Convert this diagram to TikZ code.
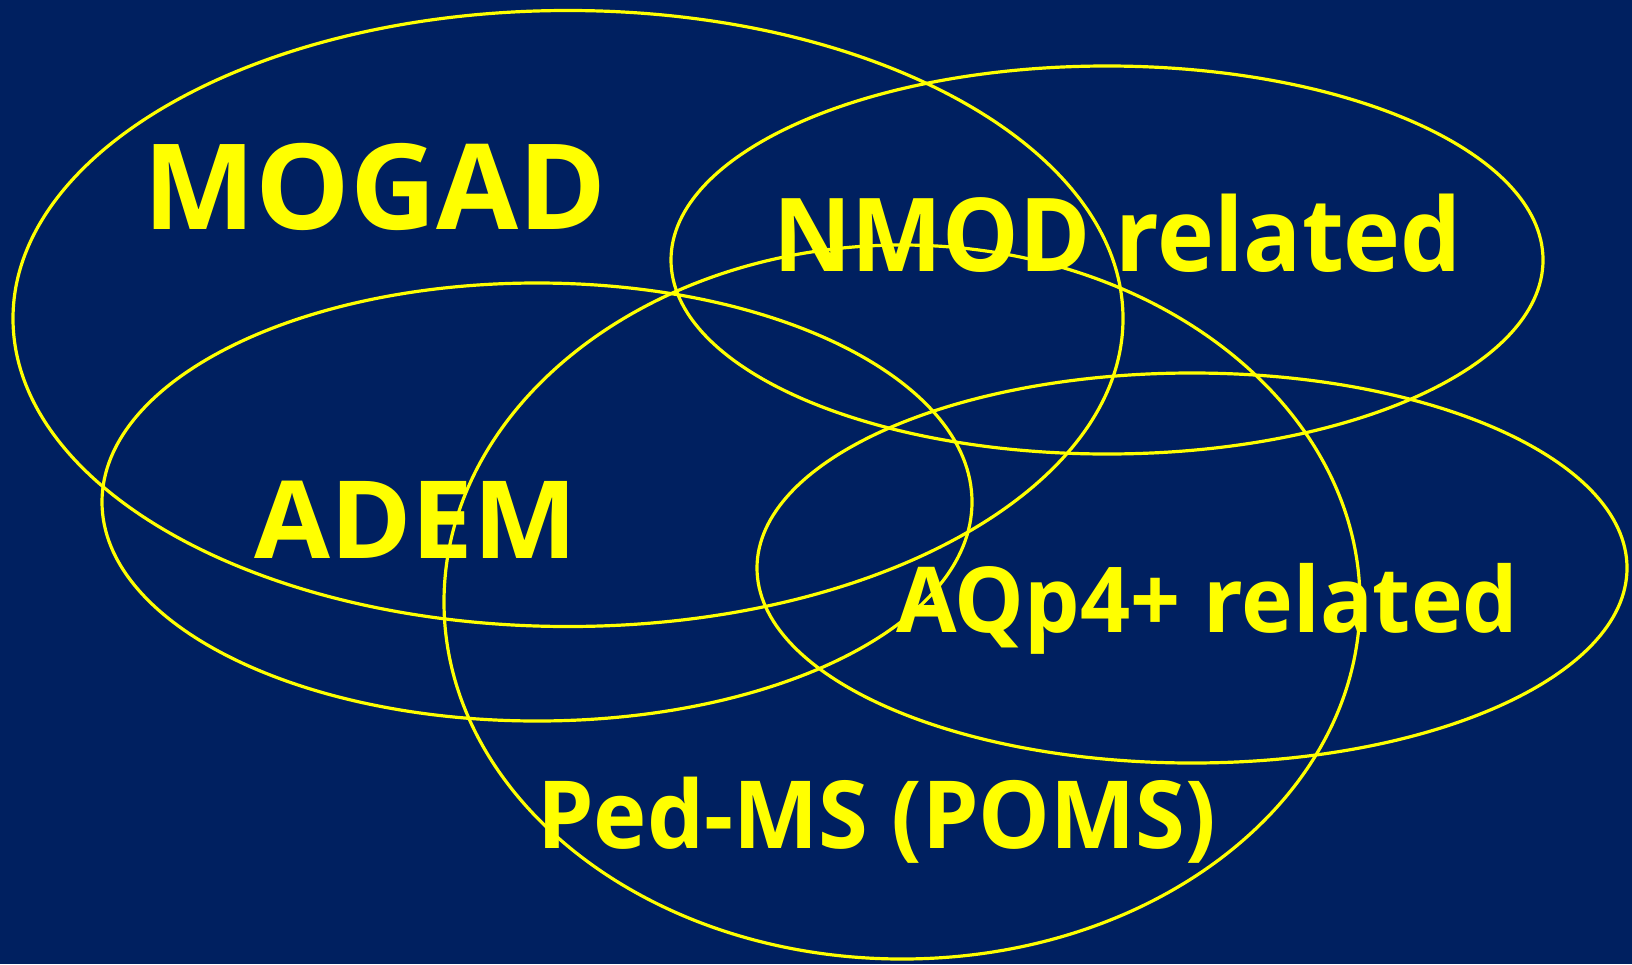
\documentclass[tikz,border=0pt]{standalone}
\usepackage{fontspec}
\setmainfont{Open Sans}
\definecolor{bgnavy}{RGB}{0,32,96}
\definecolor{vyellow}{RGB}{255,255,0}
\tikzset{
  setring/.style={draw=vyellow, line width=3.2pt},
  setlabel/.style={text=vyellow, inner sep=0pt, anchor=base west, font=\bfseries}
}
\begin{document}
\begin{tikzpicture}[x=1pt,y=-1pt]
\fill[bgnavy] (0,0) rectangle (1632,964);
\useasboundingbox (0,0) rectangle (1632,964);
% ellipses
\draw[setring] (568,318.5) ellipse [x radius=555, y radius=308];
\draw[setring] (1107,260) ellipse [x radius=436, y radius=194];
\draw[setring] (537,502) ellipse [x radius=435, y radius=219];
\draw[setring] (902,602) ellipse [x radius=458, y radius=357];
\draw[setring] (1192,568) ellipse [x radius=435, y radius=195];
% labels
\node[setlabel, font=\fontsize{119}{119}\selectfont\bfseries] (mogad) at (143,229) {MOGAD};
\node[setlabel, font=\fontsize{102}{102}\selectfont\bfseries] (nmod) at (773,271) {\scalebox{0.945}[1]{NMOD related}};
\node[setlabel, font=\fontsize{108}{108}\selectfont\bfseries] (adem) at (254,558) {\scalebox{1.02}[1]{ADEM}};
\node[setlabel, font=\fontsize{91}{91}\selectfont\bfseries] (aqp) at (896,632) {\scalebox{0.964}[1]{AQp4+ related}};
\node[setlabel, font=\fontsize{94}{94}\selectfont\bfseries] (pedms) at (537,848) {\scalebox{0.96}[1]{Ped-MS (POMS)}};
\end{tikzpicture}
\end{document}
